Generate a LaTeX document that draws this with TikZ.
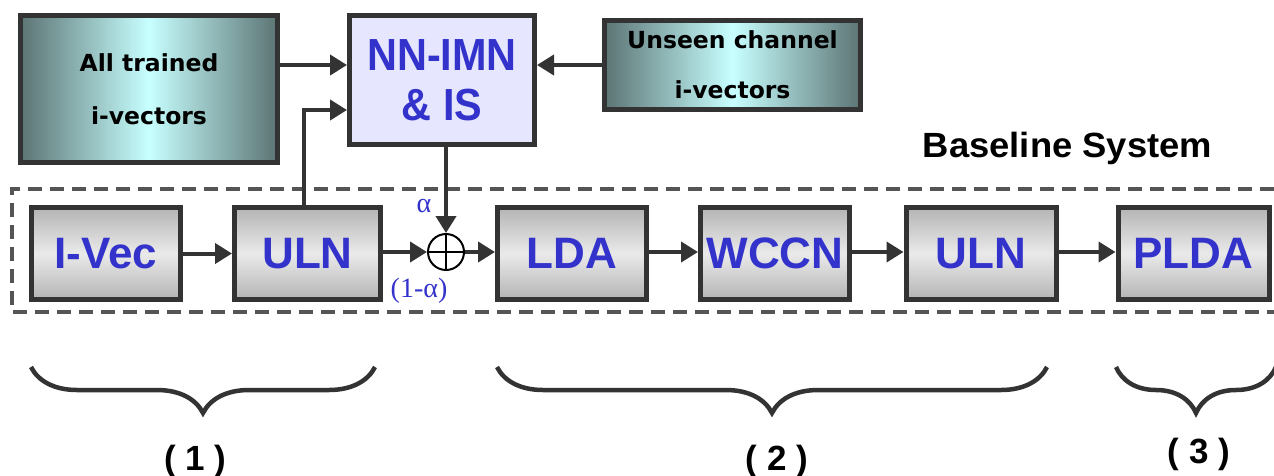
\documentclass[tikz,border=0pt]{standalone}
\usepackage{fontspec}
\setmainfont{Liberation Sans}
\newfontfamily\greekserif{Liberation Serif}
\newfontfamily\widesans{DejaVu Sans}
\usetikzlibrary{arrows.meta,decorations.pathreplacing}
\definecolor{edge}{HTML}{333333}
\definecolor{labelblue}{HTML}{3333CC}
\definecolor{boxgrayA}{HTML}{B4B4B4}
\definecolor{boxgrayB}{HTML}{EAEAEA}
\definecolor{tealdark}{HTML}{5C7474}
\definecolor{teallight}{HTML}{C8FFFF}
\definecolor{lavender}{HTML}{E6E6FF}
\definecolor{dashgray}{HTML}{555555}
\newcommand{\fsz}[2]{\fontsize{#1}{#2}\selectfont}
\begin{document}
\begin{tikzpicture}[x=1pt,y=-1pt,
  stage/.style={draw=edge,line width=5pt,top color=boxgrayA,bottom color=boxgrayA,
    middle color=boxgrayB,minimum width=149pt,minimum height=92pt,inner sep=0pt,
    text=labelblue,font=\bfseries\fsz{44}{48}},
  source/.style={draw=edge,line width=5pt,left color=tealdark,right color=tealdark,
    middle color=teallight,inner sep=0pt,align=center,text=black},
  flow/.style={draw=edge,line width=4pt,-{Triangle[length=17pt,width=20pt]}},
  bracket/.style={draw=edge,line width=4.5pt,decorate,
    decoration={brace,mirror,amplitude=46pt}},
  bracelabel/.style={font=\bfseries\fsz{35}{38},text=black}]
\useasboundingbox (0,0) rectangle (1274,475);

% input sources and the adaptation block
\node[source,minimum width=257pt,minimum height=147pt,font=\widesans\bfseries\fsz{23.5}{53}]
  (trained) at (149,89) {All trained\\i-vectors};
\node[draw=edge,line width=5pt,fill=lavender,minimum width=185pt,minimum height=129pt,
  inner sep=0pt,align=center,text=labelblue,font=\bfseries\fsz{45}{50}]
  (nnimn) at (442,80) {\scalebox{0.92}[1]{NN-IMN}\\\scalebox{0.92}[1]{\& IS}};
\node[source,minimum width=256pt,minimum height=89pt,font=\widesans\bfseries\fsz{23.5}{50}]
  (unseen) at (732.5,65) {Unseen channel\\i-vectors};

\node[font=\bfseries\fsz{35}{38},anchor=base] (baseline) at (1067.5,157)
  {\scalebox{1.04}[1]{Baseline System}};

% baseline system frame, open on the right
\draw[dashgray,line width=4pt,dash pattern=on 14pt off 8pt]
  (1274,189) -- (12,189) -- (12,312) -- (1274,312);

% processing chain
\node[stage] (ivec) at (106,253.5) {I-Vec};
\node[stage,minimum width=146pt] (uln1) at (307.5,253.5) {ULN};
\node[draw=black,line width=2pt,circle,minimum size=36pt,inner sep=0pt] (sum) at (446,252) {};
\draw[black,line width=2pt] (sum.north) -- (sum.south) (sum.west) -- (sum.east);
\node[stage] (lda) at (572,253.5) {LDA};
\node[stage] (wccn) at (775,253.5) {WCCN};
\node[stage,minimum width=150pt] (uln2) at (981,253.5) {ULN};
\node[stage,minimum width=151pt] (plda) at (1193.5,253.5) {PLDA};

\node[text=labelblue,font=\greekserif\fsz{28}{30}] (alpha) at (424,206) {α};
\node[text=labelblue,font=\greekserif\fsz{28}{30}] (oneminus) at (419,291) {(1-α)};

% connectors
\draw[flow] (trained.east |- 0,65) -- (nnimn.west |- 0,65);
\draw[flow] (unseen.west |- 0,65) -- (nnimn.east |- 0,65);
\coordinate (tap) at (304,110);
\draw[flow] (uln1.north -| tap) -- (tap) -- (nnimn.west |- tap);
\draw[flow] (nnimn.south -| sum) -- (sum.north);
\draw[flow] (ivec) -- (uln1);
\draw[flow] (uln1.east |- sum) -- (sum);
\draw[flow] (sum) -- (lda.west |- sum);
\draw[flow] (lda.east |- sum) -- (wccn.west |- sum);
\draw[flow] (wccn.east |- sum) -- (uln2.west |- sum);
\draw[flow] (uln2.east |- sum) -- (plda.west |- sum);

% grouping braces
\coordinate (b1l) at (31,367);  \coordinate (b1r) at (375,367);
\coordinate (b2l) at (497,367); \coordinate (b2r) at (1047,367);
\coordinate (b3l) at (1116,367); \coordinate (b3r) at (1276,367);
\draw[bracket] (b1l) -- (b1r);
\draw[bracket] (b2l) -- (b2r);
\draw[bracket] (b3l) -- (b3r);
\node[bracelabel] (g1) at (195.5,461) {( 1 )};
\node[bracelabel] (g2) at (777,461) {( 2 )};
\node[bracelabel] (g3) at (1199,454.5) {( 3 )};
\end{tikzpicture}
\end{document}
